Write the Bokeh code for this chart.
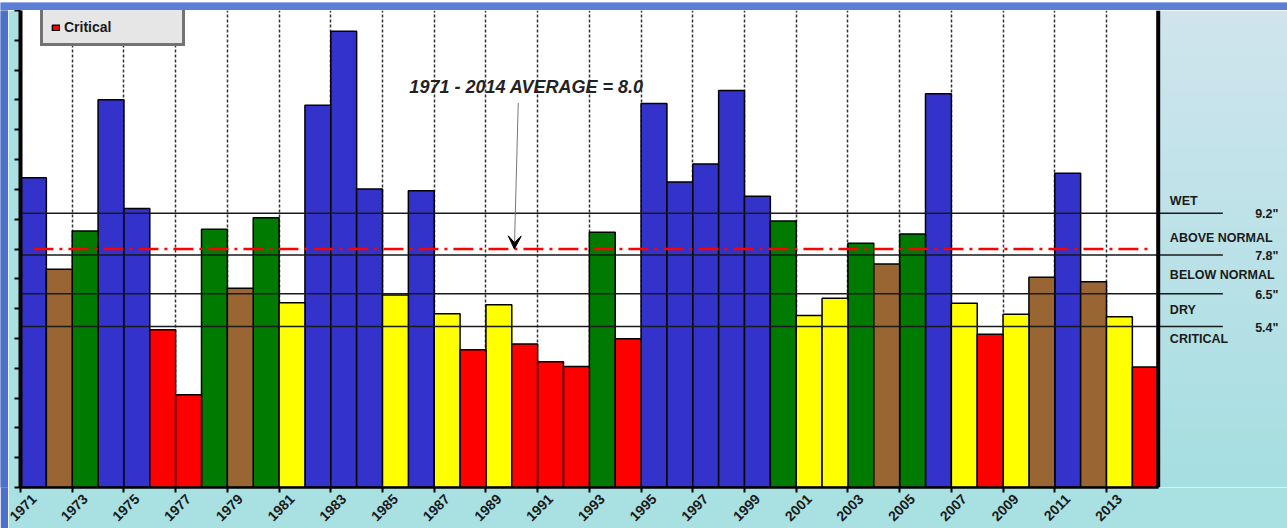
import numpy as np
from math import pi

from bokeh.plotting import figure
from bokeh.models import (Range1d, FixedTicker, ColumnDataSource, Legend, LegendItem,
                          Span, Arrow, VeeHead, Label, CustomJSTickFormatter)
from bokeh.layouts import column, row
from bokeh.embed import file_html
from bokeh.resources import INLINE

# ---- data -------------------------------------------------------------
years = list(range(1971, 2015))
rain = [10.39, 7.32, 8.60, 13.01, 9.36, 5.29, 3.11, 8.66, 6.68, 9.05,
        6.20, 12.82, 15.30, 10.01, 6.46, 9.95, 5.83, 4.62, 6.13, 4.81,
        4.22, 4.06, 8.56, 4.99, 12.88, 10.25, 10.85, 13.32, 9.77, 8.94,
        5.77, 6.35, 8.19, 7.50, 8.50, 13.21, 6.18, 5.14, 5.81, 7.05,
        10.54, 6.90, 5.73, 4.04]

thresholds = [9.2, 7.8, 6.5, 5.4]
class_labels = ["Wet", "Above Normal", "Below Normal", "Dry", "Critical"]
class_tags = ["WET", "ABOVE NORMAL", "BELOW NORMAL", "DRY", "CRITICAL"]
class_colors = ["#3333CC", "#007A00", "#996633", "#FFFF00", "#FF0000"]

average = 8.0
average_text = "1971 - 2014 AVERAGE = 8.0"

odd_years = list(range(1971, 2014, 2))
y_ticks = list(range(0, 17))

FONT = "Liberation Sans"
INK = "#1a1a1a"
LABEL_SHIFT = 0.5    # rotated year labels sit centred under their tick

# ---- main plot ----------------------------------------------------------
p = figure(width=1279, height=518,
           x_range=Range1d(1971, 2020), y_range=Range1d(0, 16),
           output_backend="svg", toolbar_location=None,
           min_border_left=12, min_border_right=0,
           min_border_top=0, min_border_bottom=40,
           background_fill_color="white", border_fill_color="#a9e0e2",
           outline_line_color=None)

# pale strip to the right of the plotting area
n = 256
t = np.linspace(0, 1, n)[:, None]            # 0 = bottom, 1 = top
bottom_c = np.array([0xA6, 0xDF, 0xE1])
top_c = np.array([0xD0, 0xE5, 0xEE])
rgb = (bottom_c + (top_c - bottom_c) * t).astype(np.uint8)
img = np.empty((n, 1), dtype=np.uint32)
view = img.view(dtype=np.uint8).reshape((n, 1, 4))
view[:, 0, 0] = rgb[:, 0]
view[:, 0, 1] = rgb[:, 1]
view[:, 0, 2] = rgb[:, 2]
view[:, 0, 3] = 255
p.image_rgba(image=[img], x=2015, y=0, dw=5, dh=16)

# bars, one renderer per class so the legend lists them in order
def classify(v):
    return sum(v < t for t in thresholds)

bar_renderers = []
for k, (lab, col) in enumerate(zip(class_labels, class_colors)):
    xs = [y + 0.5 for y, v in zip(years, rain) if classify(v) == k]
    ts = [v for v in rain if classify(v) == k]
    src = ColumnDataSource(dict(x=xs, top=ts))
    r = p.vbar(x="x", top="top", bottom=0, width=1.0, source=src,
               fill_color=col, line_color="black", line_width=1.5)
    bar_renderers.append(r)

# class threshold lines
p.segment(x0=[1971] * len(thresholds), x1=[2017.5] * len(thresholds),
          y0=thresholds, y1=thresholds, line_color=INK, line_width=1.5)

# long-term average
p.segment(x0=[1971.5], x1=[2014.6], y0=[average], y1=[average],
          line_color="#FF0000", line_width=2.5, line_dash="20 6 3 6")

# right edge of the plotting area
p.add_layout(Span(location=2015, dimension="height",
                  line_color="black", line_width=4))

# average annotation
p.add_layout(Label(x=1990.57, y=13.42, text=average_text,
                   text_align="center", text_baseline="middle",
                   text_font=FONT, text_font_style="bold italic",
                   text_font_size="18px", text_color="#222222"))
p.add_layout(Arrow(end=VeeHead(size=13, fill_color="black", line_color="black"),
                   x_start=1990.25, y_start=12.9, x_end=1990.1, y_end=average,
                   line_color="#777777", line_width=1))

# class names and threshold values on the right
tag_offsets = [-12, -17, -19, -17]
for thr, tag, off in zip(thresholds, class_tags, tag_offsets):
    p.add_layout(Label(x=2015.45, y=thr, y_offset=-off, text=tag,
                       text_align="left", text_baseline="middle",
                       text_font=FONT, text_font_style="bold",
                       text_font_size="12.5px", text_color=INK))
    p.add_layout(Label(x=2019.65, y=thr, y_offset=-1, text=f'{thr}"',
                       text_align="right", text_baseline="middle",
                       text_font=FONT, text_font_style="bold",
                       text_font_size="12.5px", text_color=INK))
p.add_layout(Label(x=2015.45, y=thresholds[-1], y_offset=-12, text=class_tags[-1],
                   text_align="left", text_baseline="middle",
                   text_font=FONT, text_font_style="bold",
                   text_font_size="12.5px", text_color=INK))

# x axis: tick marks at odd years (minor ticks), labels centred beneath them
p.xaxis.ticker = FixedTicker(ticks=[y + LABEL_SHIFT for y in odd_years],
                             minor_ticks=odd_years)
p.xaxis.formatter = CustomJSTickFormatter(
    args=dict(shift=LABEL_SHIFT), code="return String(Math.round(tick - shift));")
p.xaxis.bounds = (1971, 2015)
p.xaxis.axis_line_width = 2.5
p.xaxis.axis_line_color = "black"
p.xaxis.major_tick_line_color = None
p.xaxis.minor_tick_out = 5
p.xaxis.minor_tick_in = 0
p.xaxis.minor_tick_line_width = 2
p.xaxis.minor_tick_line_color = "black"
p.xaxis.major_label_orientation = pi / 4
p.xaxis.major_label_standoff = 3
p.xaxis.major_label_text_font = FONT
p.xaxis.major_label_text_font_style = "bold"
p.xaxis.major_label_text_font_size = "14px"
p.xaxis.major_label_text_color = INK

p.yaxis.ticker = FixedTicker(ticks=y_ticks)
p.yaxis.bounds = (0, 16)
p.yaxis.axis_line_width = 4
p.yaxis.axis_line_color = "black"
p.yaxis.major_tick_out = 6
p.yaxis.major_tick_in = 0
p.yaxis.major_tick_line_width = 2
p.yaxis.minor_tick_line_color = None
p.yaxis.major_label_overrides = {v: "" for v in y_ticks}
p.yaxis.major_label_standoff = 0

p.xgrid.ticker = FixedTicker(ticks=odd_years)
p.xgrid.grid_line_color = "#333333"
p.xgrid.grid_line_dash = "3 2"
p.xgrid.grid_line_width = 1.5
p.ygrid.grid_line_color = None

# legend
legend = Legend(items=[LegendItem(label=lab, renderers=[r])
                       for lab, r in zip(class_labels, bar_renderers)],
                location=(20, 441), orientation="vertical",
                background_fill_color="#e6e6e6", background_fill_alpha=1.0,
                border_line_color="black", border_line_width=3,
                label_text_font=FONT, label_text_font_style="bold",
                label_text_font_size="14px", label_text_color=INK,
                glyph_width=9, glyph_height=7, label_standoff=4,
                label_width=110, label_height=12, padding=8, spacing=12, margin=0)
p.add_layout(legend)

# ---- framing bands ------------------------------------------------------
top_band = figure(width=1287, height=10, x_range=Range1d(0, 1), y_range=Range1d(0, 1),
                  output_backend="svg", toolbar_location=None,
                  x_axis_type=None, y_axis_type=None, min_border=0,
                  outline_line_color=None,
                  background_fill_color="#5b7fd6", border_fill_color="#5b7fd6")
top_band.quad(left=[0], right=[1], bottom=[0], top=[1],
              fill_color="#5b7fd6", line_color=None)

left_band = figure(width=8, height=518, x_range=Range1d(0, 1), y_range=Range1d(0, 1),
                   output_backend="svg", toolbar_location=None,
                   x_axis_type=None, y_axis_type=None, min_border=0,
                   outline_line_color=None,
                   background_fill_color="#4b71c9", border_fill_color="#4b71c9")
left_band.quad(left=[0], right=[1], bottom=[0], top=[1],
               fill_color="#4b71c9", line_color=None)

layout = column(top_band, row(left_band, p, spacing=0), spacing=0)

open("out.html", "w").write(file_html(layout, INLINE))
